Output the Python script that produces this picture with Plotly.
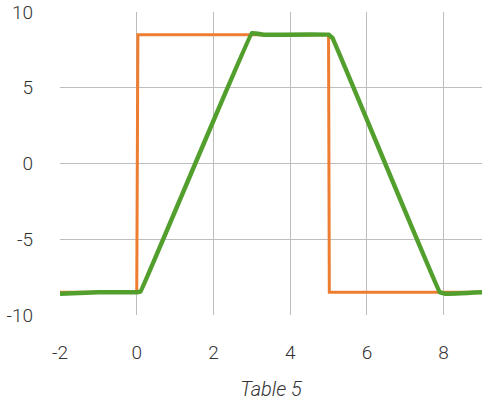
import plotly.graph_objects as go

orange_x = [-2, 0, 0.03, 5.0, 5.02, 9]
orange_y = [-8.5, -8.5, 8.5, 8.5, -8.5, -8.5]

green_x = [-2, -1, 0, 0.1, 3.0, 3.3, 5.0, 5.1, 7.9, 8.05, 9]
green_y = [-8.6, -8.5, -8.5, -8.45, 8.6, 8.5, 8.5, 8.3, -8.5, -8.6, -8.5]

x_ticks = [-2, 0, 2, 4, 6, 8]
x_labels = ["-2", "0", "2", "4", "6", "8"]
y_ticks = [-10, -5, 0, 5, 10]
y_labels = ["-10", "-5", "0", "5", "10"]

fig = go.Figure()
fig.add_trace(go.Scatter(x=orange_x, y=orange_y, mode="lines",
                         line=dict(color="#ED7D31", width=3), showlegend=False))
fig.add_trace(go.Scatter(x=green_x, y=green_y, mode="lines",
                         line=dict(color="#529F2D", width=4.5, shape="spline", smoothing=0.15),
                         showlegend=False))

font_family = "Roboto, sans-serif"
tick_font = dict(family=font_family, size=19, color="#333333", weight=300)
fig.update_layout(
    width=482, height=401,
    margin=dict(l=60, r=0, t=12, b=86),
    paper_bgcolor="white", plot_bgcolor="white",
    font=dict(family=font_family, color="#333333", size=16),
    xaxis=dict(range=[-2, 9], tickvals=x_ticks, ticktext=x_labels, showgrid=True,
               gridcolor="#BDBDBD", gridwidth=1, zeroline=False, showline=False,
               ticklabelstandoff=24, tickfont=tick_font,
               title=dict(text="<i>Table 5</i>",
                          font=dict(family=font_family, size=20, color="#333333", weight=300),
                          standoff=18)),
    yaxis=dict(range=[-10, 10], tickvals=y_ticks, ticktext=y_labels, showgrid=True,
               gridcolor="#BDBDBD", gridwidth=1, zeroline=False, showline=False,
               ticklabelstandoff=26, tickfont=tick_font),
)
fig.write_html("out.html", config={"displayModeBar": False},
               post_script="document.body.style.margin='0';")
